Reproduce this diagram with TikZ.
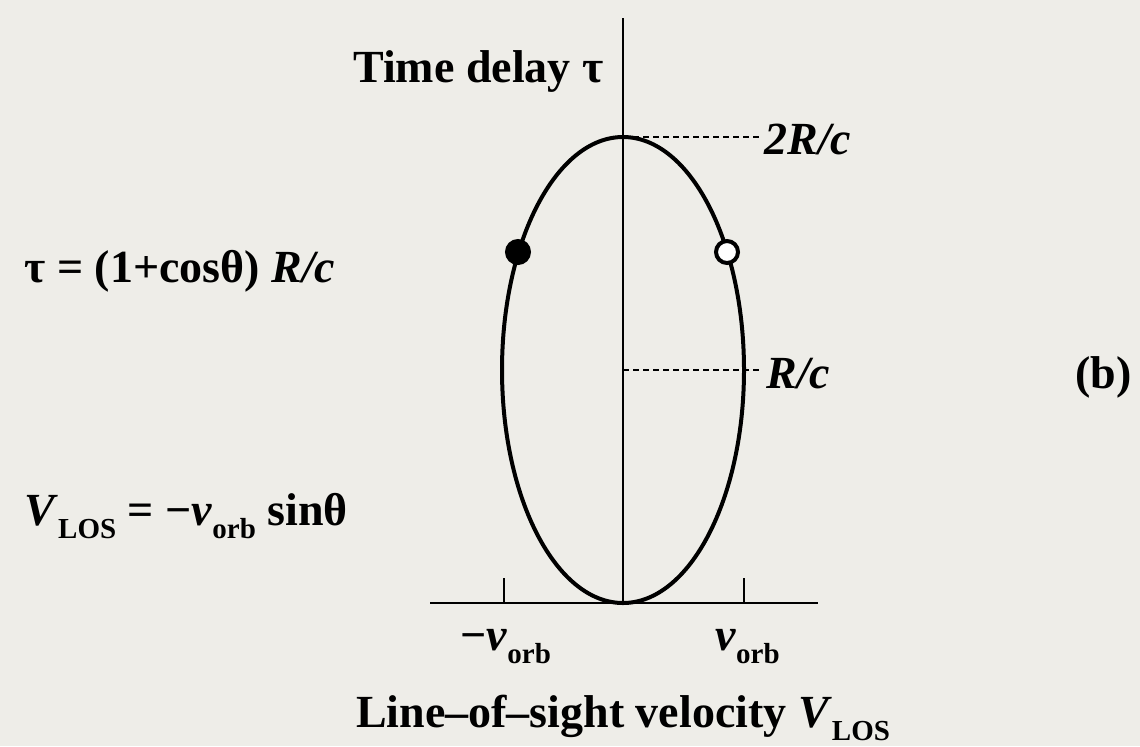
\documentclass[tikz,border=0pt]{standalone}
\usepackage{fontspec}
\setmainfont{Liberation Serif}
\usetikzlibrary{positioning}
\definecolor{paper}{HTML}{EEEDE8}
\newcommand{\lowsub}[1]{\raisebox{-6.5pt}{\fontsize{14.5}{16}\selectfont #1}}

\begin{document}
\begin{tikzpicture}[x=0.5pt,y=-0.5pt,
    font=\fontsize{23}{27}\selectfont\bfseries,
    axis/.style={line width=1pt},
    orbit/.style={line width=2pt},
    guide/.style={line width=1pt,dash pattern=on 3pt off 2pt},
    lbl/.style={inner sep=2pt},
    dot/.style={circle,draw,line width=2pt,minimum size=11pt,inner sep=0pt}
  ]
  \fill[paper] (0,0) rectangle (1140,746);
  \useasboundingbox (0,0) rectangle (1140,746);
  % axes and ticks
  \coordinate (ytop) at (623,18);
  \coordinate (ybot) at (623,605);
  \coordinate (xleft) at (430,603);
  \coordinate (xright) at (818,603);
  \coordinate (tickL) at (504,603);
  \coordinate (tickR) at (744,603);
  \draw[axis] (ybot) -- (ytop);
  \draw[axis] (xleft) -- (xright);
  \draw[axis] (tickL) -- ++(0,-25);
  \draw[axis] (tickR) -- ++(0,-25);
  % orbit
  \coordinate (centre) at (623,370);
  \coordinate (apex) at (623,137);
  \draw[orbit] (centre) ellipse [x radius=121,y radius=233];
  \node[dot,fill=black] (recede) at (518,252) {};
  \node[dot,fill=white] (approach) at (727,252) {};
  % levels
  \node[lbl,anchor=west] (twoRc) at (760,139) {\itshape 2R/c};
  \node[lbl,anchor=west] (oneRc) at (762,374) {\itshape R/c};
  \draw[guide] (apex) -- (apex -| twoRc.west);
  \draw[guide] (centre) -- (centre -| oneRc.west);
  % axis labels
  \node[lbl,anchor=base east] (ylabel) at (608,82) {Time delay τ};
  \node[lbl,anchor=base] (xlabel) at (623,727)
    {Line–of–sight velocity \textit{V}\lowsub{LOS}};
  \node[lbl,anchor=base west] (vminus) at (456,650) {−\textit{v}\lowsub{orb}};
  \node[lbl,anchor=base west] (vplus) at (711,650) {\textit{v}\lowsub{orb}};
  % formulas
  \node[lbl,anchor=base west] (delay) at (20,282) {τ = (1+cosθ) \textit{R/c}};
  \node[lbl,anchor=base west] (vlos) at (20,525)
    {\textit{V}\lowsub{LOS} = −\textit{v}\lowsub{orb} sinθ};
  \node[lbl,anchor=base east] (panel) at (1136,388) {(b)};
\end{tikzpicture}
\end{document}
